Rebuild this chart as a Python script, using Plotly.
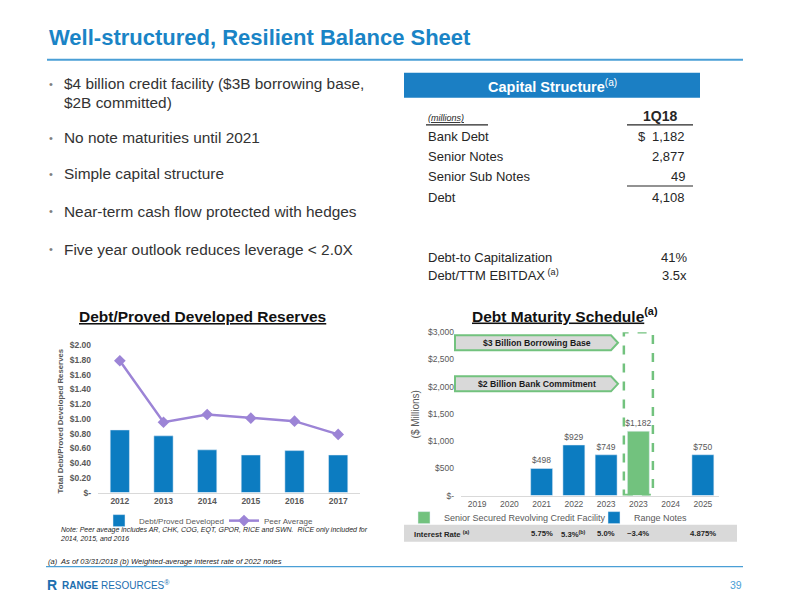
import plotly.graph_objects as go

# ---------------- data ----------------
bullets = [
    "$4 billion credit facility ($3B borrowing base,",
    "No note maturities until 2021",
    "Simple capital structure",
    "Near-term cash flow protected with hedges",
    "Five year outlook reduces leverage < 2.0X",
]
bullet_cont = "$2B committed)"

cap_labels = ["Bank Debt", "Senior Notes", "Senior Sub Notes", "Debt"]
cap_values = ["1,182", "2,877", "49", "4,108"]
ratio_labels = ["Debt-to Capitalization", "Debt/TTM EBITDAX<sup> (a)</sup>"]
ratio_values = ["41%", "3.5x"]

pdr_years = ["2012", "2013", "2014", "2015", "2016", "2017"]
pdr_range = [0.85, 0.77, 0.58, 0.51, 0.57, 0.51]
pdr_peer = [1.79, 0.955, 1.06, 1.01, 0.97, 0.79]
pdr_ticks = [0, 0.2, 0.4, 0.6, 0.8, 1.0, 1.2, 1.4, 1.6, 1.8, 2.0]
pdr_ticktext = ["$-", "$0.20", "$0.40", "$0.60", "$0.80", "$1.00", "$1.20",
                "$1.40", "$1.60", "$1.80", "$2.00"]

mat_years = ["2019", "2020", "2021", "2022", "2023", "2023", "2024", "2025"]
mat_notes = [None, None, 498, 929, 749, None, None, 750]
mat_revolver = [None, None, None, None, None, 1182, None, None]
mat_rates = ["", "", "5.75%", "5.3%<sup>(b)</sup>", "5.0%", "~3.4%", "", "4.875%"]
mat_ticks = [0, 500, 1000, 1500, 2000, 2500, 3000]
mat_ticktext = ["$-", "$500", "$1,000", "$1,500", "$2,000", "$2,500", "$3,000"]

# ---------------- styling ----------------
FONT = "Arial, Liberation Sans, sans-serif"
BLUE = "#0c7cc1"
TITLE_BLUE = "#1a84c6"
LINE_BLUE = "#4a9fd6"
GREEN = "#72c27e"
PURPLE = "#9c84d6"
GRAY = "#595959"
DARK = "#262626"

# page body has an 8px margin: size the figure to fit the 800x600 window
OFF = 8
W, H = 800 - 2 * OFF, 600 - 2 * OFF
# small vertical calibration observed in the rendered page
VA, VB = 4.5, 0.981


def X(px):
    return (px - OFF) / W


def Y(py):
    page = (py - VA) / VB
    return 1 - (page - OFF) / H


def note(text, px, py, size, color=DARK, xanchor="left", **kw):
    d = dict(text=text, x=X(px), y=Y(py), xref="paper", yref="paper",
             xanchor=xanchor, yanchor="middle", showarrow=False,
             font=dict(size=size, color=color))
    d.update(kw)
    return d


fig = go.Figure()

mat_x = list(range(len(mat_years)))

# Left chart
fig.add_trace(go.Bar(x=pdr_years, y=pdr_range, name="Debt/Proved Developed",
                     marker_color=BLUE, width=0.44, xaxis="x", yaxis="y",
                     legend="legend"))
fig.add_trace(go.Scatter(x=pdr_years, y=pdr_peer, name="Peer Average",
                         mode="lines+markers", xaxis="x", yaxis="y",
                         line=dict(color=PURPLE, width=2.5),
                         marker=dict(symbol="diamond", size=9, color=PURPLE),
                         legend="legend"))

# Right chart
fig.add_trace(go.Bar(x=mat_x, y=mat_revolver,
                     name="Senior Secured Revolving Credit Facility",
                     marker_color=GREEN, width=0.68, xaxis="x2", yaxis="y2",
                     texttemplate="$%{y:,}", textposition="outside",
                     constraintext="none",
                     textfont=dict(size=8.5, color=GRAY), cliponaxis=False,
                     legend="legend2"))
fig.add_trace(go.Bar(x=mat_x, y=mat_notes, name="Range Notes",
                     marker_color=BLUE, width=0.68, xaxis="x2", yaxis="y2",
                     texttemplate="$%{y:,}", textposition="outside",
                     constraintext="none",
                     textfont=dict(size=8.5, color=GRAY), cliponaxis=False,
                     legend="legend2"))

shapes = []
ann = []

# main title + rule
ann.append(note("<b>Well-structured, Resilient Balance Sheet</b>", 47, 37, 22, TITLE_BLUE))
shapes.append(dict(type="line", xref="paper", yref="paper", x0=X(47), x1=X(743),
                   y0=Y(59), y1=Y(59), line=dict(color=LINE_BLUE, width=2)))

# bullets
bullet_y = [83, 137, 173, 210, 248]
for txt, by in zip(bullets, bullet_y):
    ann.append(note("•", 51, by, 11, "#7f7f7f", xanchor="center"))
    ann.append(note(txt, 62, by, 15.4, "#333333"))
ann.append(note(bullet_cont, 62, 102, 15.4, "#333333"))

# capital structure table
shapes.append(dict(type="rect", xref="paper", yref="paper", x0=X(404), x1=X(700),
                   y0=Y(97), y1=Y(72), fillcolor="#1b7fc4", line=dict(width=0)))
ann.append(note("<b>Capital Structure</b><sup>(a)</sup>", 552, 85, 14.5, "white",
                xanchor="center"))
ann.append(note("<i><u>(millions)</u></i>", 426, 117, 9))
ann.append(note("<b>1Q18</b>", 660, 115, 14, xanchor="center"))
for (x0, x1, yy) in [(426, 488, 124), (627, 693, 124), (627, 693, 185)]:
    shapes.append(dict(type="line", xref="paper", yref="paper", x0=X(x0), x1=X(x1),
                       y0=Y(yy), y1=Y(yy), line=dict(color=DARK, width=1.2)))
row_y = [136, 156, 176, 196]
for lab, val, ry in zip(cap_labels, cap_values, row_y):
    ann.append(note(lab, 426, ry, 13))
    ann.append(note(val, 687, ry, 13, xanchor="right"))
ann.append(note("$", 636, 136, 13))
for lab, val, ry in zip(ratio_labels, ratio_values, [256, 274]):
    ann.append(note(lab, 426, ry, 13))
    ann.append(note(val, 689, ry, 13, xanchor="right"))

# left chart titles/notes
ann.append(note("<b><u>Debt/Proved Developed Reserves</u></b>", 202, 315, 15.5, "#111111",
                xanchor="center"))
ann.append(note("<b>Total Debt/Proved Developed Reserves</b>", 60, 420, 7.8, GRAY,
                xanchor="center", textangle=-90))
ann.append(note("<i>Note: Peer aveage includes AR, CHK, COG, EQT, GPOR, RICE and SWN.  "
                "RICE only included for<br>2014, 2015, and 2016</i>", 58, 532, 7,
                align="left"))

# right chart titles
ann.append(note("<b><u>Debt Maturity Schedule</u></b><sup><b>(a)</b></sup>", 565, 314,
                15.5, "#111111", xanchor="center"))
ann.append(note("($ Millions)", 415, 413, 10, GRAY, xanchor="center", textangle=-90))

# arrows
for (top, bot, label) in [(334, 349, "$3 Billion Borrowing Base"),
                          (375, 390, "$2 Billion Bank Commitment")]:
    mid = (top + bot) / 2
    path = (f"M {X(455)},{Y(top)} L {X(611)},{Y(top)} L {X(618)},{Y(mid)} "
            f"L {X(611)},{Y(bot)} L {X(455)},{Y(bot)} Z")
    shapes.append(dict(type="path", xref="paper", yref="paper", path=path,
                       fillcolor="#d9d9d9", line=dict(color=GREEN, width=2)))
    ann.append(note(f"<b>{label}</b>", 537, mid, 8.7, "#1a1a1a", xanchor="center"))

# dashed box around revolver bar
shapes.append(dict(type="rect", xref="x2", yref="y2", x0=4.55, x1=5.45, y0=12, y1=3000,
                   line=dict(color=GREEN, width=2.5, dash="dash"),
                   fillcolor="rgba(0,0,0,0)"))

# interest rate band
shapes.append(dict(type="rect", xref="paper", yref="paper", x0=X(404), x1=X(737),
                   y0=Y(540), y1=Y(523), fillcolor="#d9d9d9", line=dict(width=0),
                   layer="below"))
ann.append(note("<b>Interest Rate <sup>(a)</sup></b>", 412, 532, 7.7))
for xi, r in zip(mat_x, mat_rates):
    if r:
        ann.append(dict(text=f"<b>{r}</b>", x=xi, xref="x2", y=Y(532), yref="paper",
                        xanchor="center", yanchor="middle", showarrow=False,
                        font=dict(size=7.7, color=DARK)))

# footer
ann.append(note("<i>(a)  As of 03/31/2018 (b) Weighted-average interest rate of 2022 notes</i>",
                46, 560, 7.5))
shapes.append(dict(type="line", xref="paper", yref="paper", x0=X(46), x1=X(743),
                   y0=Y(565), y1=Y(565), line=dict(color=LINE_BLUE, width=1.2)))
ann.append(note("<b>R</b>", 52, 583, 14, "#1d6fb0", xanchor="center"))
ann.append(note("<b>RANGE</b> RESOURCES<sup>®</sup>", 60, 583, 10, "#1d6fb0"))
ann.append(note("39", 744, 583, 10.5, LINE_BLUE, xanchor="right"))

fig.update_layout(
    width=W, height=H, margin=dict(l=0, r=0, t=0, b=0),
    paper_bgcolor="white", plot_bgcolor="white",
    font=dict(family=FONT, color=GRAY),
    barmode="overlay", showlegend=True,
    xaxis=dict(domain=[X(98), X(360)], anchor="y", type="category",
               showgrid=False, showline=True, linecolor="#d9d9d9", linewidth=1,
               tickfont=dict(size=8.5, color=GRAY, weight="bold"), ticks=""),
    yaxis=dict(domain=[Y(491), Y(344)], anchor="x", range=[0, 2.0],
               tickvals=pdr_ticks, ticktext=pdr_ticktext, showgrid=False,
               zeroline=False, showline=False, ticklabelstandoff=6,
               tickfont=dict(size=8.5, color=GRAY, weight="bold")),
    xaxis2=dict(domain=[X(461), X(719)], anchor="y2", range=[-0.5, 7.5],
                tickvals=mat_x, ticktext=mat_years, showgrid=False, zeroline=False,
                showline=True, linecolor="#d9d9d9", linewidth=1,
                tickfont=dict(size=8.5, color=GRAY)),
    yaxis2=dict(domain=[Y(494), Y(331)], anchor="x2", range=[0, 3000],
                tickvals=mat_ticks, ticktext=mat_ticktext, showgrid=False,
                zeroline=False, showline=False, ticklabelstandoff=6,
                tickfont=dict(size=8.5, color=GRAY)),
    legend=dict(orientation="h", x=X(99), y=Y(519), xanchor="left", yanchor="middle",
                font=dict(size=8, color=GRAY), bgcolor="rgba(0,0,0,0)",
                itemwidth=30, entrywidth=80),
    legend2=dict(orientation="h", x=X(404), y=Y(516), xanchor="left", yanchor="middle",
                 font=dict(size=9, color=GRAY), bgcolor="rgba(0,0,0,0)",
                 itemwidth=30, entrywidth=145),
    shapes=shapes, annotations=ann,
)

fig.write_html("out.html")
